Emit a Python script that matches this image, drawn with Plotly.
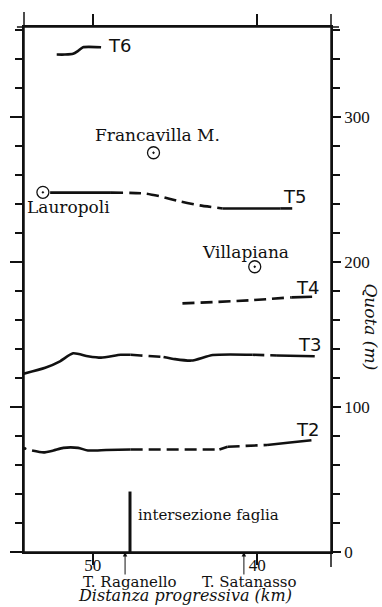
import plotly.graph_objects as go

# ---------------- data ----------------
# terrace profiles: distance (km, decreasing eastward) and elevation (m)
t6_km = [52.2, 51.7, 51.2, 50.9, 50.6, 49.5]
t6_quota = [343, 343, 343.5, 345.5, 348, 348]

t5_km = [52.6, 48.9, 46.8, 45.9, 44.7, 43.5, 42.1, 38.6, 37.6]
t5_quota = [247.8, 247.8, 247.2, 245.2, 241.7, 239.0, 236.9, 236.9, 236.9]

t4_km = [44.55, 40.5, 37.9, 36.66]
t4_quota = [171.4, 173.5, 175.6, 176.0]

t3_km = [54.2, 52.9, 52.0, 51.2, 50.3, 49.5, 48.3, 47.7, 47.1, 45.7, 45.0, 44.0, 42.7, 40.3, 38.8, 36.5]
t3_quota = [123, 127, 131.5, 137, 135, 134, 136, 136, 135.5, 134.5, 133, 132, 135.8, 136, 135.5, 135]

t2_km = [53.7, 53.0, 52.4, 51.8, 50.9, 50.3, 49.2, 47.7, 42.3, 41.8, 39.4, 38.0, 36.7]
t2_quota = [70, 68.7, 70, 71.8, 71.8, 70, 70.3, 70.7, 70.7, 72.6, 73.8, 75.5, 77.1]
t2_start_km = [54.13]
t2_start_quota = [71.4]

terrace_names = ["T6", "T5", "T4", "T3", "T2"]

places = ["Lauropoli", "Francavilla M.", "Villapiana"]
place_km = [53.04, 46.31, 40.15]
place_quota = [248, 275.3, 196.7]

fault_km = [47.74, 47.74]
fault_quota = [0, 41.7]
fault_label = "intersezione faglia"

rivers = ["T. Raganello", "T. Satanasso"]
river_km = [48.04, 40.81]

x_ticks = [50, 40]
y_ticks = [0, 100, 200, 300]
x_title = "Distanza progressiva (km)"
y_title = "Quota (m)"

# ---------------- styles ----------------
# segments (style, start index, end index) along each profile
patterns = {
    "T6": [("solid", 0, 5)],
    "T5": [("solid", 0, 1), ("dash", 1, 6), ("solid", 6, 7), ("dash", 7, 8)],
    "T4": [("dash", 0, 2), ("solid", 2, 3)],
    "T3": [("solid", 0, 7), ("dash", 7, 9), ("solid", 9, 13), ("dash", 13, 14), ("solid", 14, 15)],
    "T2": [("solid", 0, 7), ("dash", 7, 8), ("solid", 8, 9), ("dash", 9, 10), ("solid", 10, 12)],
}
profiles = {
    "T6": (t6_km, t6_quota),
    "T5": (t5_km, t5_quota),
    "T4": (t4_km, t4_quota),
    "T3": (t3_km, t3_quota),
    "T2": (t2_km, t2_quota),
}
INK = "#111111"
SERIF = "DejaVu Serif"
NUMF = "Liberation Serif"
SANS = "DejaVu Sans"
DASH = "12px,6px"

fig = go.Figure()

for name in terrace_names:
    kx, qy = profiles[name]
    for style, a, b in patterns[name]:
        fig.add_trace(go.Scatter(
            x=kx[a:b + 1], y=qy[a:b + 1], mode="lines",
            line=dict(color=INK, width=2.6, dash=("solid" if style == "solid" else DASH),
                      shape="spline", smoothing=0.6),
            hoverinfo="skip", showlegend=False))

fig.add_trace(go.Scatter(x=t2_start_km, y=t2_start_quota, mode="markers",
                         marker=dict(color=INK, size=3), showlegend=False, hoverinfo="skip"))

fig.add_trace(go.Scatter(x=fault_km, y=fault_quota, mode="lines",
                         line=dict(color=INK, width=3), showlegend=False, hoverinfo="skip"))

fig.add_trace(go.Scatter(x=place_km, y=place_quota, mode="markers",
                         marker=dict(symbol="circle-open-dot", size=12, color=INK,
                                     line=dict(color=INK, width=1.3)),
                         showlegend=False, hoverinfo="skip"))

# dummy trace for the left (unlabelled) ticked axis
fig.add_trace(go.Scatter(x=[None], y=[None], yaxis="y2", showlegend=False))

# terrace labels
label_pos = {"T6": (49.2, 349.3), "T5": (38.55, 245.2), "T4": (37.75, 182.1),
             "T3": (37.65, 143.4), "T2": (37.75, 84.5)}
for name in terrace_names:
    lx, ly = label_pos[name]
    fig.add_annotation(x=lx, y=ly, text=name, showarrow=False, xanchor="left", yanchor="middle",
                       font=dict(family=SANS, size=18, color=INK))

# place labels
place_label_pos = [(51.51, 237.6), (46.09, 287.2), (40.69, 207.2)]
for name, (lx, ly) in zip(places, place_label_pos):
    fig.add_annotation(x=lx, y=ly, text=name, showarrow=False, xanchor="center", yanchor="middle",
                       font=dict(family=SERIF, size=17, color=INK))

fig.add_annotation(x=42.95, y=25.2, text=fault_label, showarrow=False,
                   font=dict(family=SERIF, size=15, color=INK))

# rivers: arrows pointing up to the axis and names below
river_label_x = [0.345, 0.7355]
for name, km, lx in zip(rivers, river_km, river_label_x):
    fig.add_annotation(x=km, y=0, xref="x", yref="y", text="", showarrow=True,
                       ax=0, ay=24, arrowhead=2, arrowsize=0.9, arrowwidth=1,
                       arrowcolor=INK, standoff=0)
    fig.add_annotation(x=lx, y=-0.057, xref="paper", yref="paper", text=name, showarrow=False,
                       xanchor="center", yanchor="middle",
                       font=dict(family=SERIF, size=15, color=INK))

fig.add_annotation(x=0.526, y=-0.083, xref="paper", yref="paper", text="<i>" + x_title + "</i>",
                   showarrow=False, xanchor="center", yanchor="middle",
                   font=dict(family=SERIF, size=16, color=INK))
fig.add_annotation(x=1.129, y=0.4286, xref="paper", yref="paper", text="<i>" + y_title + "</i>",
                   showarrow=False, textangle=90, xanchor="center", yanchor="middle",
                   font=dict(family=SERIF, size=17, color=INK))

# axis line extensions (frame)
line = dict(color=INK, width=1.5)
fig.add_shape(type="line", xref="paper", yref="paper", x0=-0.039, x1=1.0, y0=0, y1=0, line=line)
fig.add_shape(type="line", xref="paper", yref="paper", x0=0, x1=0, y0=0, y1=1.0286, line=line)
fig.add_shape(type="line", xref="paper", yref="paper", x0=-0.023, x1=1.026, y0=1, y1=1, line=line)
fig.add_shape(type="line", xref="paper", yref="paper", x0=1, x1=1, y0=-0.0286, y1=1.0248, line=line)

yr = [0, 362]
fig.update_layout(
    width=382, height=607,
    margin=dict(l=22, r=50, t=27, b=55),
    plot_bgcolor="white", paper_bgcolor="white",
    showlegend=False,
    xaxis=dict(range=[54.19, 35.51], tickvals=x_ticks, ticktext=[str(v) for v in x_ticks],
               ticks="outside", ticklen=11, tickwidth=1.5, tickcolor=INK,
               ticklabelstandoff=-14,
               showline=True, linecolor=INK, linewidth=1.5, mirror="ticks",
               showgrid=False, zeroline=False,
               tickfont=dict(family=NUMF, size=17, color=INK)),
    yaxis=dict(range=yr, side="right", tickmode="linear", tick0=0, dtick=100,
               ticks="outside", ticklen=8, tickwidth=1.5, tickcolor=INK,
               minor=dict(dtick=20, tick0=0, ticks="outside", ticklen=7, tickwidth=1.5, tickcolor=INK),
               showline=True, linecolor=INK, linewidth=1.5,
               showgrid=False, zeroline=False,
               tickfont=dict(family=NUMF, size=17, color=INK)),
    yaxis2=dict(range=yr, overlaying="y", side="left", tickmode="linear", tick0=0, dtick=100,
                ticks="outside", ticklen=12, tickwidth=1.5, tickcolor=INK,
                minor=dict(dtick=20, tick0=0, ticks="outside", ticklen=7, tickwidth=1.5, tickcolor=INK),
                showline=True, linecolor=INK, linewidth=1.5, showticklabels=False,
                showgrid=False, zeroline=False),
)

fig.write_html("out.html")
